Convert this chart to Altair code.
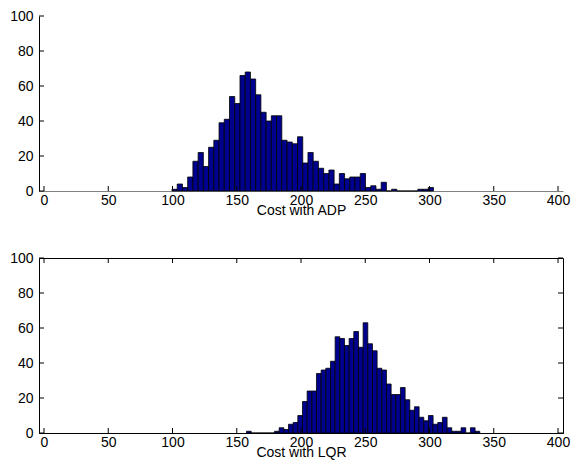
import altair as alt
import pandas as pd

# Histogram counts (50 bins each)
adp_counts = [1, 4, 2, 8, 17, 22, 14, 25, 29, 39, 41, 54, 50, 66, 68, 64, 55, 45, 40, 43,
              43, 29, 28, 27, 31, 16, 22, 17, 13, 10, 12, 4, 10, 7, 8, 8, 10, 2, 3, 1,
              5, 0, 1, 0, 0, 0, 0, 1, 1, 2]
adp_bin_start = 99.6
adp_bin_width = 4.07

lqr_counts = [1, 0, 0, 0, 0, 0, 1, 3, 2, 5, 6, 10, 18, 24, 24, 34, 36, 37, 41, 55,
              54, 50, 54, 58, 49, 63, 51, 47, 37, 36, 28, 22, 22, 26, 19, 13, 15, 9, 7, 10,
              5, 6, 9, 3, 1, 1, 3, 0, 3, 1]
lqr_bin_start = 157.6
lqr_bin_width = 3.63

x_ticks = [0, 50, 100, 150, 200, 250, 300, 350, 400]
y_ticks = [0, 20, 40, 60, 80, 100]
titles = ["Cost with ADP", "Cost with LQR"]

W, H = 524, 175
TL = 5
FONT = "Liberation Sans"


def panel(counts, start, width, title, boxed, domain_color):
    df = pd.DataFrame({
        "lo": [start + i * width for i in range(len(counts))],
        "hi": [start + (i + 1) * width for i in range(len(counts))],
        "n": counts,
    })
    xs = alt.Scale(domain=[0, 400], nice=False, zero=False)
    ys = alt.Scale(domain=[0, 100], nice=False)
    xaxis = alt.Axis(values=x_ticks, title=title, ticks=False, grid=False,
                     domainColor=domain_color, labelPadding=2, titlePadding=-4,
                     labelFlush=False)
    yaxis = alt.Axis(values=y_ticks, title=None, ticks=False, grid=False,
                     domainColor="black", labelPadding=6, minExtent=30,
                     maxExtent=30, labelFlush=False)
    bars = alt.Chart(df).mark_bar(fill="#00008F", stroke="black", strokeWidth=0.8,
                                  orient="vertical").encode(
        x=alt.X("lo:Q", scale=xs, axis=xaxis, title=title),
        x2="hi:Q",
        y=alt.Y("n:Q", scale=ys, axis=yaxis, title=None),
        y2=alt.datum(0),
    )
    xt = pd.DataFrame({"v": x_ticks})
    yt = pd.DataFrame({"v": y_ticks})
    layers = [bars]
    layers.append(alt.Chart(xt).mark_rule(color="black", strokeWidth=1).encode(
        x=alt.X("v:Q", scale=xs, axis=xaxis, title=title), y=alt.value(H), y2=alt.value(H - TL)))
    layers.append(alt.Chart(yt).mark_rule(color="black", strokeWidth=1).encode(
        y=alt.Y("v:Q", scale=ys, axis=yaxis, title=None), x=alt.value(0), x2=alt.value(TL)))
    if boxed:
        layers.append(alt.Chart(xt).mark_rule(color="black", strokeWidth=1).encode(
            x=alt.X("v:Q", scale=xs, axis=xaxis, title=title), y=alt.value(0), y2=alt.value(TL)))
        layers.append(alt.Chart(yt).mark_rule(color="black", strokeWidth=1).encode(
            y=alt.Y("v:Q", scale=ys, axis=yaxis, title=None), x=alt.value(W), x2=alt.value(W - TL)))
    view = alt.ViewBackground(stroke="black", strokeWidth=1) if boxed else alt.ViewBackground(stroke="transparent")
    return alt.layer(*layers).properties(width=W, height=H, view=view)


top = panel(adp_counts, adp_bin_start, adp_bin_width, titles[0], False, "#808080")
bottom = panel(lqr_counts, lqr_bin_start, lqr_bin_width, titles[1], True, "black")

chart = alt.vconcat(top, bottom, spacing=32).properties(
    padding=0, background="white"
).configure_axis(
    labelFont=FONT, labelFontSize=14, labelColor="black",
    titleFont=FONT, titleFontSize=14, titleFontWeight="normal", titleColor="black",
)

chart.save("out.html", embed_options={"renderer": "svg", "actions": False})
